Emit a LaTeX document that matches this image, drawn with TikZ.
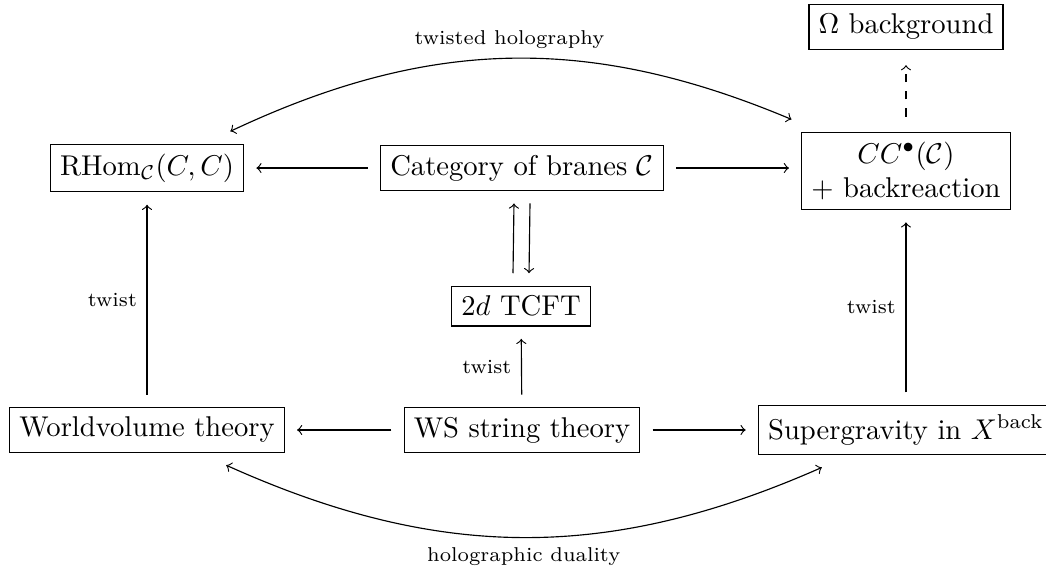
\documentclass[tikz,border=0pt]{standalone}
\usepackage{amsmath,amssymb}
\usetikzlibrary{arrows,positioning,calc}

\begin{document}
\begin{tikzpicture}[box/.style = {draw, outer sep = 4.5pt}, lbl/.style = {font = \scriptsize}]
    \useasboundingbox (0,0) rectangle (12.855,-6.968);
    \node[box] (omega) at (11.134,-0.332) {$\Omega$ background};
    \node[box] (rhom) at (1.807,-2.065) {$\mathrm{RHom}_{\mathcal{C}}(C,C)$};
    \node[box] (cat) at (6.415,-2.065) {Category of branes $\mathcal{C}$};
    \node[box, align = center] (cc) at (11.134,-2.10) {$CC^\bullet(\mathcal{C})$\\$+$ backreaction};
    \node[box] (tcft) at (6.403,-3.761) {$2d$ TCFT};
    \node[box] (wv) at (1.807,-5.284) {Worldvolume theory};
    \node[box] (ws) at (6.415,-5.284) {WS string theory};
    \node[box] (sugra) at (11.134,-5.284) {Supergravity in $X^{\mathrm{back}}$};
    % top row
    \draw[->] (cat) -- (rhom);
    \draw[->] (cat.east) -- (cat.east -| cc.west);
    \draw[->, dashed, shorten >= 1pt, shorten <= 1pt] (cc) -- (omega);
    % branes and TCFT
    \draw[->] ([xshift=-2.8pt]tcft.north) -- ([xshift=-2.8pt]cat.south);
    \draw[->] ([xshift=2.8pt]cat.south) -- ([xshift=2.8pt]tcft.north);
    \draw[->] (ws) -- node[left, lbl] {twist} (tcft);
    % bottom row
    \draw[->] (ws) -- (wv);
    \draw[->] (ws) -- (sugra);
    \draw[->] (wv) -- node[left, lbl] {twist} (rhom);
    \draw[->] (sugra.north -| cc) -- node[left, lbl] {twist} (cc.south);
    % dualities
    \draw[<->] (rhom) to[bend left = 24] node[above, lbl] {twisted holography} (cc);
    \draw[<->] (wv) to[bend right = 24] node[below, lbl] {holographic duality} (sugra);
\end{tikzpicture}
\end{document}
